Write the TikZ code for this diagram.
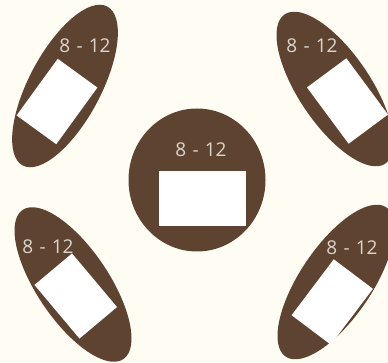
\documentclass[tikz,border=0pt]{standalone}
\usepackage{fontspec}
\setmainfont{Open Sans}[WordSpace=1.25]
\usetikzlibrary{shapes.geometric}

\definecolor{tablebrown}{HTML}{5E4330}
\definecolor{paper}{HTML}{FFFDF3}
\definecolor{labelgrey}{HTML}{DCD5CD}

\tikzset{
  table/.style={ellipse, fill=tablebrown, inner sep=0pt,
    minimum width=72pt, minimum height=180pt},
  roundtable/.style={ellipse, fill=tablebrown, inner sep=0pt,
    minimum width=137pt, minimum height=143pt},
  seat/.style={fill=white, inner sep=0pt,
    minimum width=49pt, minimum height=70pt},
  count/.style={text=labelgrey, inner sep=0pt,
    font=\fontsize{19}{21}\selectfont}
}

\begin{document}
\begin{tikzpicture}[x=1pt, y=-1pt]
\fill[paper] (0,0) rectangle (388,363);
\useasboundingbox (0,0) rectangle (388,363);
\clip (0,0) rectangle (388,363);

   % middle round table
   \node[roundtable] (mid) at (197,180) {};
   \node[fill=white, inner sep=0pt, minimum width=87pt, minimum height=55pt]
      (midseat) at (202.5,198.5) {};
   \node[count] (midtxt) at (201,150) {8 - 12};

   % top left
   \node[table, rotate=-28] (tl) at (65,86) {};
   \node[seat, rotate=-36] (tlseat) at (57,101.5) {};
   \node[count] (tltxt) at (85,46) {8 - 12};

   % top right
   \node[table, rotate=34] (tr) at (335,89) {};
   \node[seat, rotate=36.5] (trseat) at (347.5,101) {};
   \node[count] (trtxt) at (312,46) {8 - 12};

   % bottom left
   \node[table, rotate=34] (bl) at (73,284.5) {};
   \node[seat, rotate=40] (blseat) at (75.75,296) {};
   \node[count] (bltxt) at (48,247) {8 - 12};

   % bottom right
   \node[table, rotate=-34] (br) at (336,282) {};
   \node[seat, rotate=-37] (brseat) at (332.25,302) {};
   \node[count] (brtxt) at (352,248) {8 - 12};
\end{tikzpicture}
\end{document}
